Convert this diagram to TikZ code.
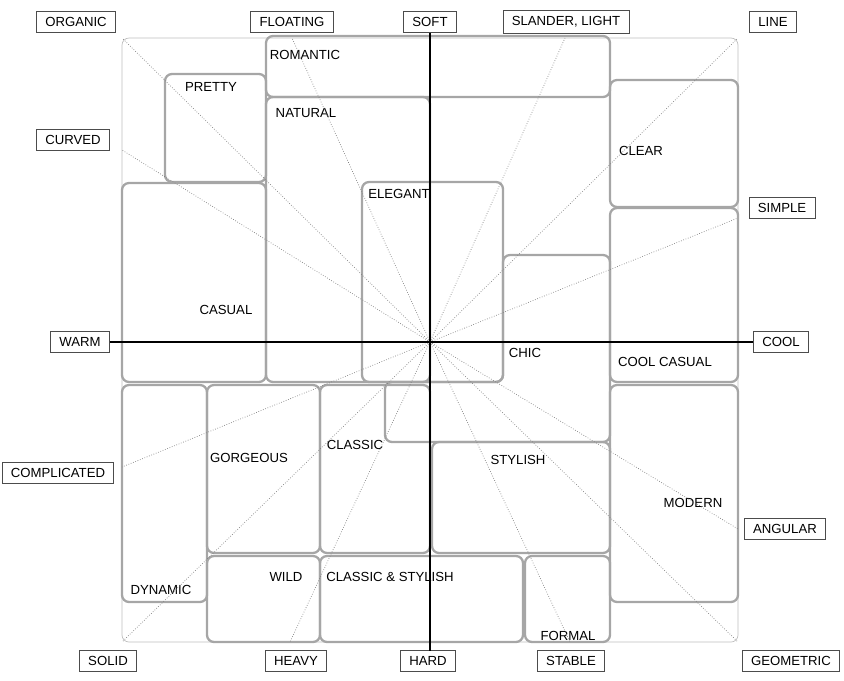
\documentclass[tikz,border=0pt]{standalone}
\usepackage{fontspec}
\setmainfont{Liberation Sans}
\begin{document}
\begin{tikzpicture}[x=0.02cm,y=-0.02cm,font=\fontsize{7.5}{9}\selectfont,
  tag/.style={draw=black!70,line width=0.5pt,minimum height=0.4cm,inner xsep=5pt},
  area/.style={draw=black!35,line width=1.3pt,rounded corners=4pt},
  ray/.style={black!50,densely dotted,line width=0.4pt}]
\useasboundingbox (0,0) rectangle (844,680);
\draw[black!25,rounded corners=4pt] (122,38) rectangle (738,642);

% regions
\draw[area] (266,36) rectangle (610,97);
\draw[area] (165,74) rectangle (266,182);
\draw[area] (266,97) rectangle (430,382);
\draw[area] (610,80) rectangle (738,207);
\draw[area] (362,182) rectangle (503,382);
\draw[area] (122,183) rectangle (266,382);
\draw[area] (503,255) -- (610,255) -- (610,442) -- (385,442) -- (385,382) -- (503,382) -- cycle;
\draw[area] (610,208) rectangle (738,382);
\draw[area] (610,385) rectangle (738,602);
\draw[area] (122,385) rectangle (207,602);
\draw[area] (207,385) rectangle (320,553);
\draw[area] (320,385) rectangle (430,553);
\draw[area] (432,442) rectangle (610,553);
\draw[area] (207,556) rectangle (320,642);
\draw[area] (320,556) rectangle (523,642);
\draw[area] (525,556) rectangle (610,642);

\node at (305,55) {ROMANTIC};
\node at (211,87) {PRETTY};
\node at (306,113) {NATURAL};
\node at (641,151) {CLEAR};
\node at (399,194) {ELEGANT};
\node at (226,310) {CASUAL};
\node at (525,353) {CHIC};
\node at (665,362) {COOL CASUAL};
\node at (249,458) {GORGEOUS};
\node at (355,445) {CLASSIC};
\node at (518,460) {STYLISH};
\node at (693,503) {MODERN};
\node at (161,590) {DYNAMIC};
\node at (286,577) {WILD};
\node at (390,577) {CLASSIC \& STYLISH};
\node at (568,636) {FORMAL};

% rays
\coordinate (o) at (430,342);
\foreach \p in {(122,38),(292,38),(565,38),(738,38),(122,150),(738,218),
  (122,467),(738,529),(122,642),(290,642),(570,642),(738,642)}
  \draw[ray] (o) -- \p;

% tags
\node[tag] (org) at (76,22) {ORGANIC};
\node[tag] (flo) at (292,22) {FLOATING};
\node[tag] (sof) at (430,22) {SOFT};
\node[tag] (sla) at (566,22) {SLANDER, LIGHT};
\node[tag] (lin) at (773,22) {LINE};
\node[tag] (cur) at (73,140) {CURVED};
\node[tag] (sim) at (782,208) {SIMPLE};
\node[tag] (war) at (80,342) {WARM};
\node[tag] (coo) at (781,342) {COOL};
\node[tag] (com) at (58,473) {COMPLICATED};
\node[tag] (ang) at (785,529) {ANGULAR};
\node[tag] (sol) at (108,661) {SOLID};
\node[tag] (hea) at (296,661) {HEAVY};
\node[tag] (har) at (428,661) {HARD};
\node[tag] (sta) at (571,661) {STABLE};
\node[tag] (geo) at (791,661) {GEOMETRIC};

\draw[line width=0.6pt] (war) -- (coo);
\draw[line width=0.6pt] (sof) -- (430,651);
\end{tikzpicture}
\end{document}
